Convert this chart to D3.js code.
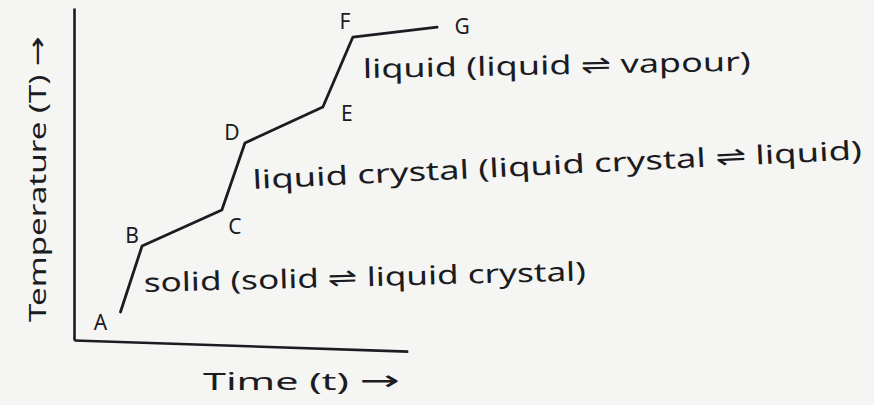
<!DOCTYPE html>
<html>
<head>
<meta charset="utf-8">
<script src="https://cdn.jsdelivr.net/npm/d3@7"></script>
<style>
  html, body { margin: 0; padding: 0; background: #f5f5f3; }
  svg { display: block; }
  .hand { font-family: "Noto Sans", sans-serif; fill: #1b1b22; }
  .arrow { font-family: "DejaVu Sans", sans-serif; }
</style>
</head>
<body>
<div id="chart"></div>
<script>
var width = 874, height = 405;

// heating curve (arbitrary units)
const pointLabels = ['A', 'B', 'C', 'D', 'E', 'F', 'G'];
const timeValues  = [1.27, 1.86, 4.04, 4.67, 6.80, 7.62, 9.92];
const tempValues  = [0.85, 2.85, 3.94, 5.97, 7.06, 9.18, 9.48];

// phase notes, one per flat-then-steep part of the curve
const phaseTexts = [
  'solid (solid \u21CC liquid crystal)',
  'liquid crystal (liquid crystal \u21CC liquid)',
  'liquid (liquid \u21CC vapour)'
];
const xTitle = 'Time (t)';
const yTitle = 'Temperature (T)';

var svg = d3.select('#chart')
  .append('svg')
  .attr('width', width)
  .attr('height', height);

var xScale = d3.scaleLinear().domain([0, 10]).range([74, 440]);
var yScale = d3.scaleLinear().domain([0, 10]).range([340, 10]);

// axes without ticks, only the bare lines
var yAxis = d3.axisLeft(d3.scaleLinear().domain([0, 10]).range([340, 8]))
  .tickValues([]).tickSizeOuter(0);
svg.append('g')
  .attr('transform', 'translate(74,0)')
  .call(yAxis)
  .select('.domain')
  .attr('stroke', '#1b1b22')
  .attr('stroke-width', 2.6);

var xAxis = d3.axisBottom(d3.scaleLinear().domain([0, 10]).range([0, 334]))
  .tickValues([]).tickSizeOuter(0);
svg.append('g')
  .attr('transform', 'translate(74,340) rotate(1.9)')
  .call(xAxis)
  .select('.domain')
  .attr('stroke', '#1b1b22')
  .attr('stroke-width', 2.6);

var pts = timeValues.map(function(t, i) {
  return { t: t, T: tempValues[i], label: pointLabels[i] };
});

var line = d3.line()
  .x(function(d) { return xScale(d.t); })
  .y(function(d) { return yScale(d.T); });

svg.append('path')
  .datum(pts)
  .attr('d', line)
  .attr('fill', 'none')
  .attr('stroke', '#1b1b22')
  .attr('stroke-width', 2.8)
  .attr('stroke-linejoin', 'round')
  .attr('stroke-linecap', 'round');

// letter offsets from each point
var labelOffsets = [[-20, 12], [-10, -9], [13, 18], [-13, -9], [24, 8], [-8, -14], [25, 1]];

svg.selectAll('.ptlabel')
  .data(pts)
  .enter()
  .append('text')
  .attr('class', 'ptlabel hand')
  .attr('x', function(d, i) { return xScale(d.t) + labelOffsets[i][0]; })
  .attr('y', function(d, i) { return yScale(d.T) + labelOffsets[i][1]; })
  .attr('text-anchor', 'middle')
  .attr('dominant-baseline', 'middle')
  .attr('font-size', 21)
  .text(function(d) { return d.label; });

// phase notes start just right of the steep segments A-B, C-D, E-F
var notePlace = [
  { from: 0, dx: 2, y: 292, len: 442, angle: -1.5 },
  { from: 2, dx: 8, y: 189, len: 610, angle: -2.8 },
  { from: 4, dx: 10, y: 78, len: 388, angle: -1.1 }
];

phaseTexts.forEach(function(txt, i) {
  var p = notePlace[i];
  var x0 = xScale(pts[p.from + 1].t) + p.dx;
  svg.append('text')
    .attr('class', 'hand')
    .attr('x', x0)
    .attr('y', p.y)
    .attr('font-size', 26)
    .attr('textLength', p.len)
    .attr('lengthAdjust', 'spacingAndGlyphs')
    .attr('transform', 'rotate(' + p.angle + ',' + x0 + ',' + p.y + ')')
    .text(txt);
});

var xt = svg.append('text')
  .attr('class', 'hand')
  .attr('x', 203)
  .attr('y', 390)
  .attr('font-size', 24)
  .attr('textLength', 197)
  .attr('lengthAdjust', 'spacingAndGlyphs');
xt.append('tspan').text(xTitle + ' ');
xt.append('tspan').attr('class', 'arrow').attr('font-size', 28).text('\u2192');

var yt = svg.append('text')
  .attr('class', 'hand')
  .attr('transform', 'translate(46,322) rotate(-90)')
  .attr('font-size', 24)
  .attr('textLength', 286)
  .attr('lengthAdjust', 'spacingAndGlyphs');
yt.append('tspan').text(yTitle + ' ');
yt.append('tspan').attr('class', 'arrow').attr('font-size', 26).text('\u2192');
</script>
</body>
</html>
